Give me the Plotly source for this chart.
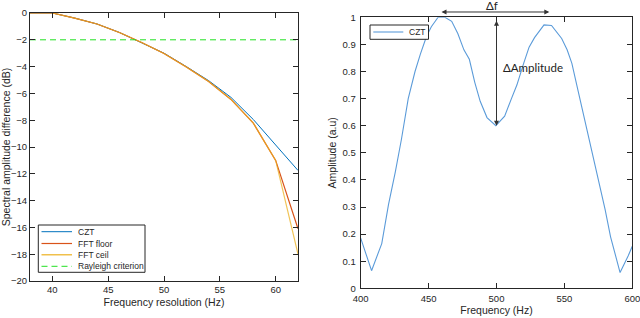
import plotly.graph_objects as go

W, H = 640, 318

# ---------------- Left panel data ----------------
res_hz = [38, 40, 42, 44, 46, 48, 50, 52, 54, 56, 58, 60, 62]
czt_db = [0, 0, -0.38, -0.82, -1.45, -2.2, -3.0, -4.0, -5.05, -6.3, -7.95, -9.85, -11.75]
fft_floor_db = [0, 0, -0.38, -0.82, -1.45, -2.2, -3.02, -4.03, -5.12, -6.45, -8.22, -11.0, -16.1]
fft_ceil_db = [0, 0, -0.38, -0.82, -1.45, -2.2, -3.02, -4.03, -5.12, -6.45, -8.22, -11.0, -18.0]
rayleigh_db = -2
left_names = ["CZT", "FFT floor", "FFT ceil", "Rayleigh criterion"]

# ---------------- Right panel data ----------------
freq_hz = [400, 408, 415.5, 420.5, 425.5, 430, 435, 440, 444, 448.5, 452, 457, 462,
           467, 471.5, 476, 480, 484, 488, 493, 499.5, 506, 511, 515, 520, 524, 528,
           535, 540.5, 548, 552, 555.5, 560, 565, 569, 575, 580, 584, 587.5, 591,
           597, 600]
amp_au = [0.185, 0.065, 0.165, 0.31, 0.43, 0.55, 0.70, 0.80, 0.865, 0.93, 0.965, 1.0, 1.0,
          0.985, 0.94, 0.88, 0.845, 0.76, 0.69, 0.63, 0.60, 0.635, 0.70, 0.75, 0.83, 0.89, 0.925,
          0.972, 0.97, 0.922, 0.88, 0.83, 0.73, 0.62, 0.54, 0.41, 0.29, 0.19, 0.125, 0.058,
          0.12, 0.155]
right_names = ["CZT"]
delta_f_span = [458.4, 538.9]
delta_amp_freq = 500
delta_amp_span = [0.6, 0.993]

C_BLUE = "#0072BD"
C_ORANGE = "#D95319"
C_YELLOW = "#EDB120"
C_GREEN = "#22E022"
C_RBLUE = "#5B9BD9"
AX = "#262626"
FONT = "Liberation Sans, Arial, sans-serif"


def px(x):
    return x / W


def py(y):
    return 1 - y / H


fig = go.Figure()

fig.add_trace(go.Scatter(x=res_hz, y=czt_db, mode="lines", name=left_names[0],
                         line=dict(color=C_BLUE, width=1), xaxis="x", yaxis="y"))
fig.add_trace(go.Scatter(x=res_hz, y=fft_floor_db, mode="lines", name=left_names[1],
                         line=dict(color=C_ORANGE, width=1.2), xaxis="x", yaxis="y"))
fig.add_trace(go.Scatter(x=res_hz, y=fft_ceil_db, mode="lines", name=left_names[2],
                         line=dict(color=C_YELLOW, width=1.2), opacity=0.75, xaxis="x", yaxis="y"))
fig.add_trace(go.Scatter(x=[res_hz[0], res_hz[-1]], y=[rayleigh_db, rayleigh_db], mode="lines",
                         name=left_names[3], line=dict(color=C_GREEN, width=1, dash="6px,4px"),
                         xaxis="x", yaxis="y"))
fig.add_trace(go.Scatter(x=freq_hz, y=amp_au, mode="lines", name=right_names[0],
                         line=dict(color=C_RBLUE, width=1.1), xaxis="x2", yaxis="y2"))

axis_common = dict(showline=True, linecolor=AX, linewidth=1, mirror="allticks",
                   ticks="inside", ticklen=5, tickwidth=1, tickcolor=AX,
                   showgrid=False, zeroline=False, automargin=False,
                   ticklabeloverflow="allow",
                   tickfont=dict(family=FONT, size=9.5, color=AX))
title_font = dict(family=FONT, size=10.5, color=AX)

fig.update_layout(
    width=W, height=H, margin=dict(l=0, r=0, t=0, b=0, autoexpand=False),
    paper_bgcolor="white", plot_bgcolor="white", showlegend=False,
    xaxis=dict(domain=[px(30), px(298)], range=[38, 62], tickvals=[40, 45, 50, 55, 60],
               anchor="y", title=dict(text="Frequency resolution (Hz)", font=title_font, standoff=4),
               ticklabelstandoff=0, **axis_common),
    yaxis=dict(domain=[py(281), py(13)], range=[-20, 0], tickvals=list(range(-20, 1, 2)),
               anchor="x", title=dict(text="Spectral amplitude difference (dB)", font=title_font, standoff=4),
               **axis_common),
    xaxis2=dict(domain=[px(360.7), px(632.3)], range=[400, 600], tickvals=[400, 450, 500, 550, 600],
                anchor="y2", title=dict(text="Frequency (Hz)", font=title_font, standoff=3),
                ticklabelstandoff=1, **axis_common),
    yaxis2=dict(domain=[py(288.3), py(17.3)], range=[0, 1],
                tickvals=[i / 10 for i in range(11)],
                ticktext=["0"] + [f"{i/10:.1f}" for i in range(1, 10)] + ["1"],
                anchor="x2", title=dict(text="Amplitude (a.u)", font=title_font, standoff=3),
                ticklabelstandoff=2, **axis_common),
)

shapes = []
annotations = []

# Manual legend (left)
shapes.append(dict(type="rect", xref="paper", yref="paper", x0=px(38.3), x1=px(145), y0=py(272.3), y1=py(225),
                   line=dict(color=AX, width=1), fillcolor="white", layer="above"))
leg_rows = [231.7, 243.5, 254.8, 266.3]
leg_styles = [dict(color=C_BLUE, width=1), dict(color=C_ORANGE, width=1.2),
              dict(color=C_YELLOW, width=1.2), dict(color=C_GREEN, width=1, dash="6px,4px")]
for name, yy, st in zip(left_names, leg_rows, leg_styles):
    shapes.append(dict(type="line", xref="paper", yref="paper", x0=px(41.5), x1=px(72), y0=py(yy), y1=py(yy),
                       line=st, layer="above"))
    annotations.append(dict(xref="paper", yref="paper", x=px(75.5), y=py(yy), text=name, showarrow=False,
                            xanchor="left", yanchor="middle", font=dict(family=FONT, size=8.5, color=AX)))

# Manual legend (right)
shapes.append(dict(type="rect", xref="paper", yref="paper", x0=px(370), x1=px(428.5), y0=py(39.3), y1=py(25),
                   line=dict(color=AX, width=1), fillcolor="white", layer="above"))
shapes.append(dict(type="line", xref="paper", yref="paper", x0=px(373.3), x1=px(403.3), y0=py(32), y1=py(32),
                   line=dict(color=C_RBLUE, width=1.1), layer="above"))
annotations.append(dict(xref="paper", yref="paper", x=px(406.5), y=py(32), text=right_names[0], showarrow=False,
                        xanchor="left", yanchor="middle", font=dict(family=FONT, size=8.5, color=AX)))

# Delta f double arrow (above the axes, in y2-domain units)
arrow_y = 1.0196
annotations.append(dict(x=delta_f_span[1], y=arrow_y, ax=delta_f_span[0], ay=arrow_y,
                        xref="x2", yref="y2 domain", axref="x2", ayref="y2 domain", text="", showarrow=True,
                        arrowhead=2, arrowside="end+start", arrowsize=1, arrowwidth=1, arrowcolor="#333333"))
annotations.append(dict(xref="paper", yref="paper", x=px(492), y=py(5.5), text="Δf", showarrow=False,
                        xanchor="center", yanchor="middle", font=dict(family="Lato, sans-serif", size=11.5, color="#222222")))
# Delta amplitude double arrow
annotations.append(dict(x=delta_amp_freq, y=delta_amp_span[0], ax=delta_amp_freq, ay=delta_amp_span[1],
                        xref="x2", yref="y2", axref="x2", ayref="y2", text="", showarrow=True,
                        arrowhead=2, arrowside="end+start", arrowsize=1, arrowwidth=1, arrowcolor="#333333"))
annotations.append(dict(xref="paper", yref="paper", x=px(501), y=py(68), text="ΔAmplitude", showarrow=False,
                        xanchor="left", yanchor="middle", font=dict(family="Lato, sans-serif", size=11.5, color="#222222")))

fig.update_layout(shapes=shapes, annotations=annotations)

fig.write_html("out.html", config={"displayModeBar": False},
               post_script="document.body.style.margin='0';document.body.style.overflow='hidden';")
